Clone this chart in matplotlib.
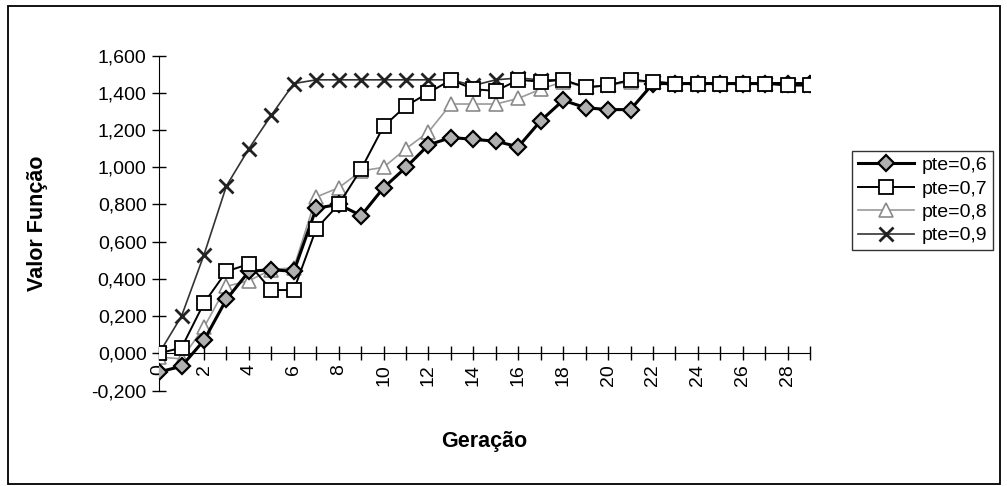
import matplotlib
matplotlib.use("Agg")
import matplotlib.pyplot as plt
from matplotlib.patches import Rectangle
from matplotlib.ticker import FuncFormatter, MultipleLocator

plt.rcParams['font.family'] = ['Liberation Sans', 'DejaVu Sans']

# geracoes 0..29
geracao = list(range(30))

pte06 = [-0.10, -0.07, 0.07, 0.29, 0.44, 0.45, 0.44, 0.78, 0.80, 0.74,
         0.89, 1.00, 1.12, 1.16, 1.15, 1.14, 1.11, 1.25, 1.36, 1.32,
         1.31, 1.31, 1.45, 1.45, 1.45, 1.45, 1.45, 1.45, 1.45, 1.45]
pte07 = [0.00, 0.03, 0.27, 0.44, 0.48, 0.34, 0.34, 0.67, 0.80, 0.99,
         1.22, 1.33, 1.40, 1.47, 1.42, 1.41, 1.47, 1.46, 1.47, 1.43,
         1.44, 1.47, 1.46, 1.45, 1.45, 1.45, 1.45, 1.45, 1.44, 1.44]
pte08 = [-0.02, -0.03, 0.14, 0.36, 0.39, 0.45, 0.46, 0.84, 0.89, 0.98,
         1.00, 1.10, 1.19, 1.34, 1.34, 1.34, 1.37, 1.42, 1.46, 1.43,
         1.44, 1.46, 1.46, 1.45, 1.45, 1.45, 1.45, 1.45, 1.44, 1.44]
pte09 = [0.00, 0.20, 0.53, 0.90, 1.10, 1.28, 1.45, 1.47, 1.47, 1.47,
         1.47, 1.47, 1.47, 1.47, 1.44, 1.47, 1.48, 1.47, 1.47, 1.43,
         1.44, 1.47, 1.46, 1.45, 1.45, 1.45, 1.45, 1.45, 1.44, 1.44]

legendas = ["pte=0,6", "pte=0,7", "pte=0,8", "pte=0,9"]

fig = plt.figure(figsize=(10.07, 4.86), dpi=100)
ax = fig.add_axes([0.158, 0.1965, 0.6465, 0.689])

# moldura externa
fig.patches.append(Rectangle((0.008, 0.004), 0.985, 0.984, transform=fig.transFigure,
                             fill=False, edgecolor="black", linewidth=1.3))

l9, = ax.plot(geracao, pte09, color="#333333", lw=1.2, marker="x", ms=10, mew=2,
              mec="#222222", zorder=2)
l8, = ax.plot(geracao, pte08, color="#9a9a9a", lw=1.2, marker="^", ms=10, mew=1.2,
              mfc="white", mec="#8a8a8a", zorder=3)
l6, = ax.plot(geracao, pte06, color="black", lw=2.2, marker="D", ms=8, mew=1.6,
              mfc="#b0b0b0", mec="black", zorder=4)
l7, = ax.plot(geracao, pte07, color="black", lw=1.4, marker="s", ms=10, mew=1.3,
              mfc="white", mec="black", zorder=5)

ax.set_xlim(0, 29)
ax.set_ylim(-0.2, 1.6)

ax.spines["top"].set_visible(False)
ax.spines["right"].set_visible(False)
ax.spines["bottom"].set_position(("data", 0))

ax.yaxis.set_major_locator(MultipleLocator(0.2))
ax.yaxis.set_major_formatter(FuncFormatter(lambda v, p: ("%.3f" % v).replace(".", ",")))
ax.xaxis.set_major_locator(MultipleLocator(2))
ax.xaxis.set_minor_locator(MultipleLocator(1))

ax.tick_params(axis="y", direction="inout", length=10, width=1, labelsize=14, pad=4)
ax.tick_params(axis="x", which="both", direction="inout", length=10, width=1,
               labelsize=14, labelrotation=90, pad=3)

ax.set_ylabel("Valor Função", fontsize=15.5, fontweight="bold")
ax.yaxis.set_label_coords(-0.17, 0.5)
ax.set_xlabel("Geração", fontsize=15.5, fontweight="bold")
ax.xaxis.set_label_coords(0.5, -0.12)

leg = fig.legend([l6, l7, l8, l9], legendas, loc="upper left",
                 bbox_to_anchor=(0.846, 0.69), borderaxespad=0, fontsize=14,
                 frameon=True, fancybox=False, edgecolor="black", handlelength=2.9,
                 handletextpad=0.4, borderpad=0.3, labelspacing=0.3)
leg.get_frame().set_linewidth(1.0)

fig.savefig("out.png", dpi=100)
